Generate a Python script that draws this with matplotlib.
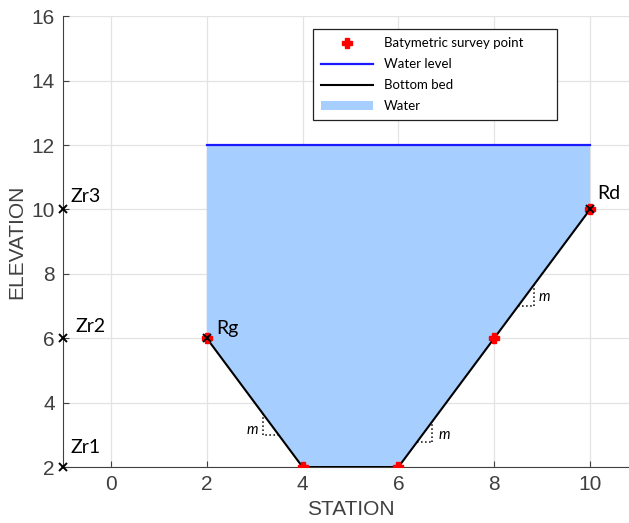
import matplotlib.pyplot as plt
import numpy as np

# channel section data
bed_x = [2, 4, 6, 10]
bed_y = [6, 2, 2, 10]
survey_x = [2, 4, 6, 8, 10]
survey_y = [6, 2, 2, 6, 10]
water_level = 12
water_x = [2, 2, 4, 6, 10, 10]
water_y = [12, 6, 2, 2, 10, 12]

ref_x = [-1, -1, -1, 2, 10]
ref_y = [2, 6, 10, 6, 10]
ref_names = ['Zr1', 'Zr2', 'Zr3', 'Rg', 'Rd']
ref_label_pos = [(-0.85, 2.6), (-0.75, 6.35), (-0.85, 10.4), (2.2, 6.3), (10.15, 10.5)]

# slope triangles: (corner x, corner y, left x, top y, label x, label y)
slopes = [
    (3.17, 2.99, 3.505, 3.66, 2.83, 3.15),
    (6.71, 2.78, 6.39, 3.42, 6.83, 3.0),
    (8.83, 7.0, 8.5, 7.66, 8.92, 7.28),
]

plt.rcParams['font.family'] = ['Liberation Sans', 'DejaVu Sans']
water_col = '#a6ceff'
gray = '#404040'

fig = plt.figure(figsize=(6.29, 5.23), dpi=100)
ax = fig.add_axes([0.1002, 0.107, 0.914, 0.862])

ax.fill(water_x, water_y, color=water_col, lw=0, label='Water', zorder=1)
ax.plot([2, 10], [water_level, water_level], color='#1a1aff', lw=1.6, label='Water level', zorder=3)
ax.plot(bed_x, bed_y, color='black', lw=1.5, label='Bottom bed', zorder=3)
ax.plot(survey_x, survey_y, 'P', color='red', ms=7, mec='red', ls='none',
        label='Batymetric survey point', zorder=4)
ax.plot(ref_x, ref_y, 'x', color='black', ms=6, mew=1.4, ls='none', zorder=5, clip_on=False)

for name, (tx, ty) in zip(ref_names, ref_label_pos):
    ax.text(tx, ty, name, family='Lato', fontsize=14, ha='left', va='center', zorder=6)

for cx, cy, lx, ty, mx, my in slopes:
    ax.plot([cx, cx], [cy, ty], ls=':', color='black', lw=1.1, zorder=3)
    ax.plot([lx, cx], [cy, cy], ls=':', color='black', lw=1.1, zorder=3)
    ax.text(mx, my, 'm', family='Lato', style='italic', fontsize=10.5, ha='left', va='center')

ax.set_xlim(-1, 11)
ax.set_ylim(2, 16)
ax.set_xticks(np.arange(0, 11, 2))
ax.set_yticks(np.arange(2, 17, 2))
ax.grid(True, color='#e3e3e3', lw=0.9)
ax.set_axisbelow(True)
for s in ['top', 'right']:
    ax.spines[s].set_visible(False)
for s in ['left', 'bottom']:
    ax.spines[s].set_color(gray)
ax.tick_params(direction='in', colors=gray, labelsize=15, length=4, pad=6)
ax.set_xlabel('STATION', fontsize=15, color=gray, labelpad=4)
ax.set_ylabel('ELEVATION', fontsize=15, color=gray, labelpad=4)

h, l = ax.get_legend_handles_labels()
order = [3, 1, 2, 0]
leg = ax.legend([h[i] for i in order], [l[i] for i in order],
                loc='upper left', mode='expand',
                bbox_to_anchor=(313 / 629, 1 - 115 / 523, 244 / 629, 86 / 523),
                bbox_transform=fig.transFigure, borderaxespad=0,
                fancybox=False, edgecolor='#222222', framealpha=1,
                prop={'family': 'Lato', 'size': 9.5},
                handlelength=3.9, borderpad=0.62, labelspacing=0.68, handletextpad=0.85)
leg.get_frame().set_linewidth(0.9)

fig.savefig('out.png', dpi=100)
